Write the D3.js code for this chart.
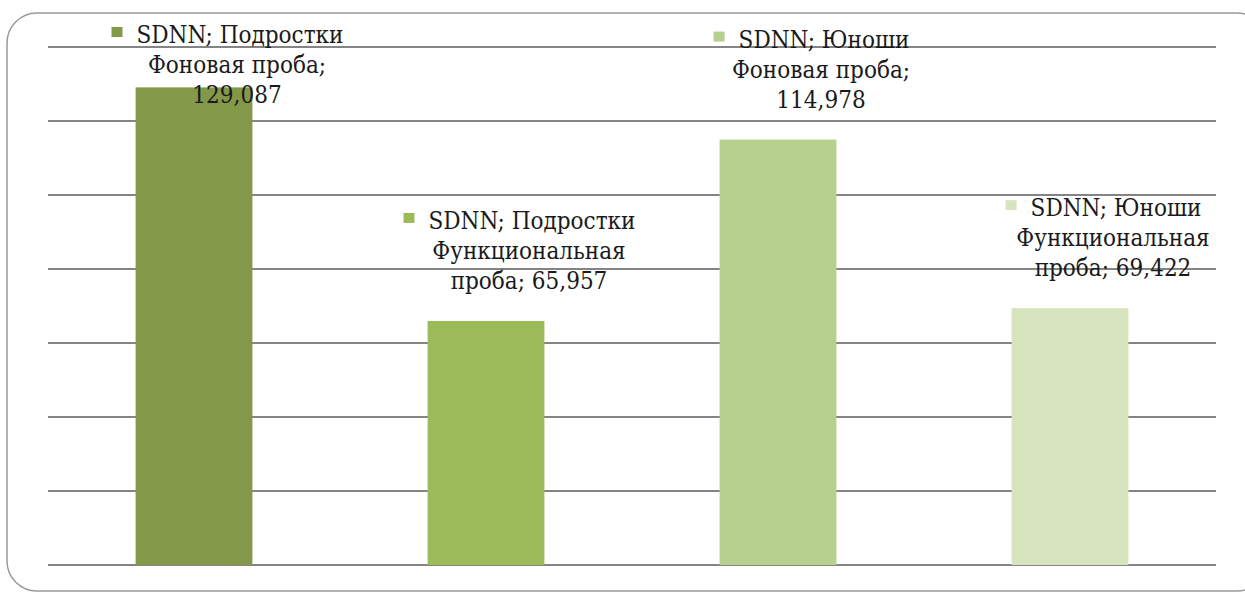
<!DOCTYPE html>
<html>
<head>
<meta charset="utf-8">
<script src="https://cdn.jsdelivr.net/npm/d3@7"></script>
<style>
  body { margin: 0; background: #fff; }
  svg { display: block; }
</style>
</head>
<body>
<div id="chart"></div>
<script>
// data
var series = ["SDNN; Подростки", "SDNN; Подростки", "SDNN; Юноши", "SDNN; Юноши"];
var categories = [["Фоновая проба;"], ["Функциональная", "проба;"], ["Фоновая проба;"], ["Функциональная", "проба;"]];
var values = [129.087, 65.957, 114.978, 69.422];
var valueLabels = ["129,087", "65,957", "114,978", "69,422"];
var colors = ["#84984a", "#9bbb59", "#b8d08d", "#d7e4bd"];
var yTicks = [0, 20, 40, 60, 80, 100, 120, 140];

var width = 1245, height = 594;

var svg = d3.select("#chart")
  .append("svg")
  .attr("width", width)
  .attr("height", height);

// rounded frame
svg.append("rect")
  .attr("x", 7)
  .attr("y", 13)
  .attr("width", 1260)
  .attr("height", 578)
  .attr("rx", 30)
  .attr("fill", "none")
  .attr("stroke", "#9a9a9a")
  .attr("stroke-width", 1.5);

var x = d3.scaleBand()
  .domain(d3.range(values.length))
  .range([48, 1216])
  .paddingInner(0.6)
  .paddingOuter(0.3);

var y = d3.scaleLinear()
  .domain([0, 140])
  .range([565, 47]);

// gridlines
svg.append("g")
  .selectAll("line")
  .data(yTicks)
  .enter()
  .append("line")
  .attr("x1", 48)
  .attr("x2", 1216)
  .attr("y1", function (d) { return y(d); })
  .attr("y2", function (d) { return y(d); })
  .attr("stroke", "#848484")
  .attr("stroke-width", 2);

// bars
svg.append("g")
  .selectAll("rect")
  .data(values)
  .enter()
  .append("rect")
  .attr("x", function (d, i) { return x(i); })
  .attr("y", function (d) { return y(d); })
  .attr("width", x.bandwidth())
  .attr("height", function (d) { return y(0) - y(d); })
  .attr("fill", function (d, i) { return colors[i]; });

// data labels (series; category; value) with legend key
var lineH = 30;
var labels = svg.append("g")
  .style("font-family", "'DejaVu Serif Condensed', 'DejaVu Serif', serif")
  .style("font-size", "24px")
  .attr("fill", "#1a1a1a");

values.forEach(function (v, i) {
  var cat = categories[i];
  var lines = [series[i]].concat(cat.length > 1 ? [cat[0], cat[1] + " " + valueLabels[i]] : [cat[0], valueLabels[i]]);
  var cx = x(i) + x.bandwidth() / 2 + 43;
  var last = y(v) - 32;
  var first = Math.max(last - lineH * (lines.length - 1), 43);

  var g = labels.append("g");
  lines.forEach(function (t, k) {
    g.append("text")
      .attr("x", cx + (k === 0 ? 3 : 0))
      .attr("y", first + k * lineH)
      .attr("text-anchor", "middle")
      .text(t);
  });
  // legend key square beside first line
  var w = g.select("text").node().getComputedTextLength();
  g.append("rect")
    .attr("x", cx + 3 - w / 2 - 25)
    .attr("y", first - 16)
    .attr("width", 11)
    .attr("height", 10)
    .attr("fill", colors[i]);
});
</script>
</body>
</html>
